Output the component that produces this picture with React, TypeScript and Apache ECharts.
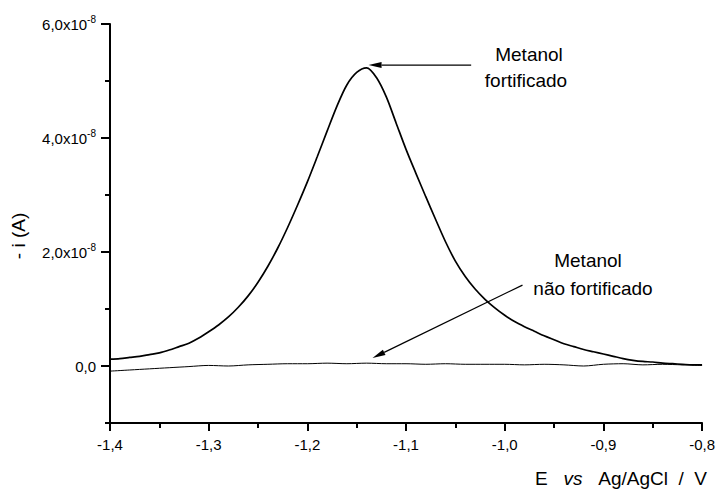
import React, { useEffect, useRef } from "react";
import * as echarts from "echarts";

// Potential (V vs Ag/AgCl) and current (-i, in units of 1e-8 A)
const potentialFort = [
  -1.40, -1.39, -1.38, -1.37, -1.36, -1.35, -1.34, -1.33, -1.32, -1.31,
  -1.30, -1.29, -1.28, -1.27, -1.26, -1.25, -1.24, -1.23, -1.22, -1.21,
  -1.20, -1.19, -1.18, -1.17, -1.16, -1.15, -1.14, -1.13, -1.12, -1.11,
  -1.10, -1.09, -1.08, -1.07, -1.06, -1.05, -1.04, -1.03, -1.02, -1.01,
  -1.00, -0.99, -0.98, -0.97, -0.96, -0.95, -0.94, -0.93, -0.92, -0.91,
  -0.90, -0.89, -0.88, -0.87, -0.86, -0.85, -0.84, -0.83, -0.82, -0.81,
  -0.80,
];
const currentFort = [
  0.12, 0.13, 0.15, 0.17, 0.20, 0.23, 0.28, 0.34, 0.40, 0.49,
  0.60, 0.72, 0.86, 1.03, 1.23, 1.47, 1.75, 2.07, 2.43, 2.82,
  3.23, 3.67, 4.12, 4.56, 4.93, 5.15, 5.23, 5.06, 4.72, 4.26,
  3.80, 3.38, 2.97, 2.57, 2.18, 1.84, 1.57, 1.35, 1.17, 1.02,
  0.89, 0.78, 0.69, 0.61, 0.53, 0.46, 0.39, 0.34, 0.29, 0.25,
  0.21, 0.17, 0.13, 0.10, 0.08, 0.07, 0.05, 0.04, 0.03, 0.02,
  0.02,
];

const potentialBlank = [
  -1.40, -1.38, -1.36, -1.34, -1.32, -1.30, -1.28, -1.26, -1.24, -1.22,
  -1.20, -1.18, -1.16, -1.14, -1.12, -1.10, -1.08, -1.06, -1.04, -1.02,
  -1.00, -0.98, -0.96, -0.94, -0.92, -0.90, -0.88, -0.86, -0.84, -0.82,
  -0.80,
];
const currentBlank = [
  -0.09, -0.07, -0.05, -0.03, -0.01, 0.01, 0.00, 0.02, 0.03, 0.04,
  0.04, 0.05, 0.04, 0.05, 0.04, 0.04, 0.03, 0.04, 0.03, 0.03,
  0.03, 0.02, 0.03, 0.02, 0.00, 0.03, 0.04, 0.02, 0.03, 0.02,
  0.01,
];

const xTicks = [-1.4, -1.3, -1.2, -1.1, -1.0, -0.9, -0.8];
const yMajor = [0, 2, 4, 6];
const yMinor = [-1, 1, 3, 5];

// annotation arrows (data coords: [potential, current])
const arrowFort = { from: [-1.034, 5.28], to: [-1.138, 5.28] };
const arrowBlank = { from: [-0.982, 1.42], to: [-1.134, 0.14] };

const FONT = '"Liberation Sans", Arial, Helvetica, sans-serif';

export default function App() {
  const ref = useRef<HTMLDivElement>(null);

  useEffect(() => {
    document.body.style.margin = "0";
    const chart = echarts.init(ref.current!, null, { renderer: "svg" });

    const yLabel = (v: number) => {
      if (Math.abs(v) < 1e-9) return "{m|0,0}";
      return "{m|" + v.toFixed(1).replace(".", ",") + "x10}{s|-8}";
    };

    chart.setOption({
      animation: false,
      backgroundColor: "#ffffff",
      grid: { left: 110, right: 15, top: 24, bottom: 72 },
      xAxis: {
        type: "value",
        min: -1.4,
        max: -0.8,
        interval: 0.1,
        splitLine: { show: false },
        axisLine: { show: true, onZero: false, lineStyle: { color: "#000", width: 2 } },
        axisTick: { show: true, length: 8, lineStyle: { color: "#000", width: 2 } },
        minorTick: { show: true, splitNumber: 2, length: 5, lineStyle: { color: "#000", width: 2 } },
        axisLabel: {
          color: "#000",
          fontSize: 15,
          fontFamily: FONT,
          margin: 14,
          customValues: xTicks,
          formatter: (v: number) => v.toFixed(1).replace(".", ","),
        },
      },
      yAxis: [
        {
          type: "value",
          min: -1,
          max: 6,
          splitLine: { show: false },
          axisLine: { show: true, onZero: false, lineStyle: { color: "#000", width: 2 } },
          axisTick: { show: true, length: 9, customValues: yMajor, lineStyle: { color: "#000", width: 2 } },
          axisLabel: {
            color: "#000",
            fontFamily: FONT,
            margin: 14,
            customValues: yMajor,
            formatter: yLabel,
            rich: {
              m: { fontSize: 15, fontFamily: FONT, color: "#000" },
              s: { fontSize: 10, fontFamily: FONT, color: "#000", padding: [0, 0, 10, 0] },
            },
          },
        },
        {
          type: "value",
          min: -1,
          max: 6,
          position: "left",
          splitLine: { show: false },
          axisLine: { show: false },
          axisTick: { show: true, length: 5, customValues: yMinor, lineStyle: { color: "#000", width: 2 } },
          axisLabel: { show: false },
        },
      ],
      series: [
        {
          type: "line",
          data: potentialFort.map((x, i) => [x, currentFort[i]]),
          showSymbol: false,
          smooth: 0.3,
          lineStyle: { color: "#000", width: 1.7 },
        },
        {
          type: "line",
          data: potentialBlank.map((x, i) => [x, currentBlank[i]]),
          showSymbol: false,
          smooth: 0.3,
          lineStyle: { color: "#000", width: 1 },
        },
      ],
    });

    const px = (p: number[]) => chart.convertToPixel({ gridIndex: 0 }, p) as number[];
    const arrow = (a: { from: number[]; to: number[] }) => {
      const f = px(a.from);
      const t = px(a.to);
      const dx = t[0] - f[0];
      const dy = t[1] - f[1];
      const len = Math.sqrt(dx * dx + dy * dy);
      const ux = dx / len;
      const uy = dy / len;
      const hl = 13;
      const hw = 3;
      const bx = t[0] - ux * hl;
      const by = t[1] - uy * hl;
      return [
        {
          type: "line",
          shape: { x1: f[0], y1: f[1], x2: bx, y2: by },
          style: { stroke: "#000", lineWidth: 1.3 },
        },
        {
          type: "polygon",
          shape: {
            points: [
              [t[0], t[1]],
              [bx - uy * hw, by + ux * hw],
              [bx + uy * hw, by - ux * hw],
            ],
          },
          style: { fill: "#000" },
        },
      ];
    };

    const textStyle = { fill: "#000", fontSize: 19, fontFamily: FONT };
    chart.setOption({
      graphic: [
        ...arrow(arrowFort),
        ...arrow(arrowBlank),
        {
          type: "text",
          x: 529,
          y: 54,
          style: { ...textStyle, text: "Metanol", textAlign: "center", textVerticalAlign: "middle" },
        },
        {
          type: "text",
          x: 526,
          y: 80,
          style: { ...textStyle, text: "fortificado", textAlign: "center", textVerticalAlign: "middle" },
        },
        {
          type: "text",
          x: 588,
          y: 260,
          style: { ...textStyle, text: "Metanol", textAlign: "center", textVerticalAlign: "middle" },
        },
        {
          type: "text",
          x: 593,
          y: 288,
          style: { ...textStyle, text: "não fortificado", textAlign: "center", textVerticalAlign: "middle" },
        },
        {
          type: "text",
          x: 18,
          y: 236,
          rotation: Math.PI / 2,
          style: { ...textStyle, text: "- i (A)", textAlign: "center", textVerticalAlign: "middle" },
        },
        {
          type: "text",
          x: 707,
          y: 478,
          style: {
            ...textStyle,
            text: "E   {i|vs}   Ag/AgCl  /  V",
            textAlign: "right",
            textVerticalAlign: "middle",
            rich: {
              i: { fontSize: 19, fontFamily: FONT, fontStyle: "italic", fill: "#000" },
            },
          },
        },
      ],
    });

    return () => chart.dispose();
  }, []);

  return <div ref={ref} style={{ width: 718, height: 495 }} />;
}
